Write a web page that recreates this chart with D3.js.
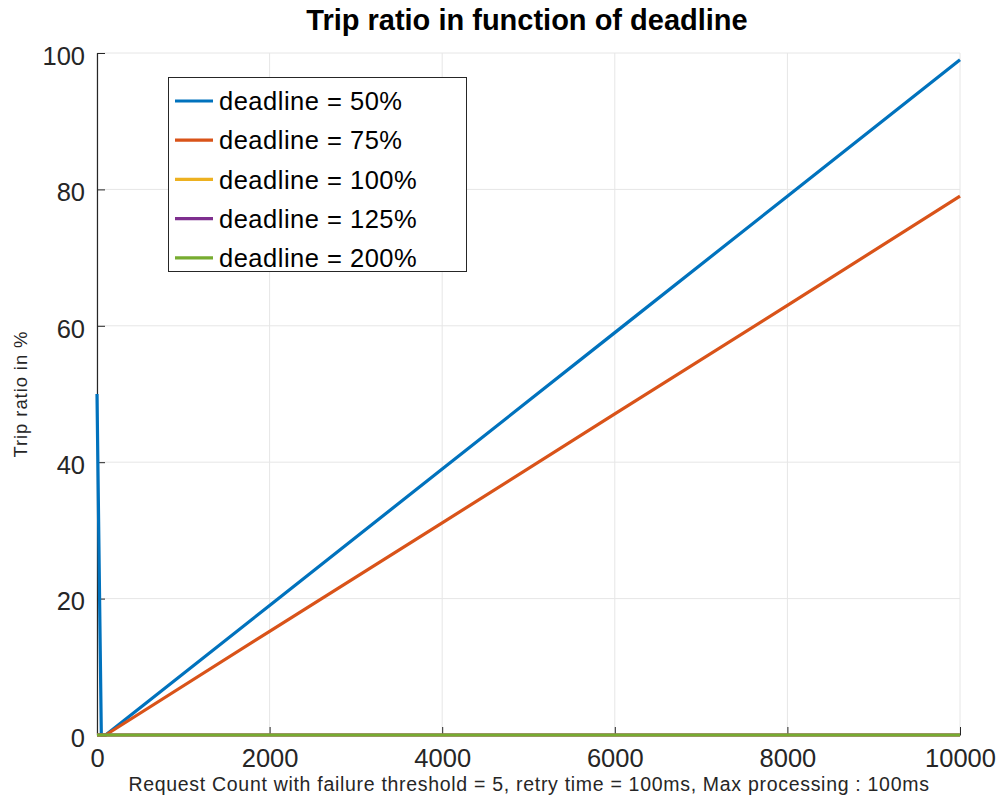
<!DOCTYPE html>
<html>
<head>
<meta charset="utf-8">
<script src="https://cdn.jsdelivr.net/npm/d3@7"></script>
<style>
  html, body { margin: 0; padding: 0; background: #fff; }
  svg { display: block; font-family: "Liberation Sans", Arial, Helvetica, sans-serif; }
</style>
</head>
<body>
<svg id="chart" width="1000" height="805"></svg>
<script>
// Request counts at which each series is sampled
const requestCounts = [0, 50, 100, 2000, 4000, 6000, 8000, 10000];

// Trip ratio (%) per deadline setting
const trip50  = [50, 0, 0, 19, 39, 59, 79, 99];
const trip75  = [0, 0, 0, 15.2, 31.1, 47.1, 63.0, 79];
const trip100 = [0, 0, 0, 0, 0, 0, 0, 0];
const trip125 = [0, 0, 0, 0, 0, 0, 0, 0];
const trip200 = [0, 0, 0, 0, 0, 0, 0, 0];

const seriesNames = ["deadline = 50%", "deadline = 75%", "deadline = 100%", "deadline = 125%", "deadline = 200%"];
const seriesValues = [trip50, trip75, trip100, trip125, trip200];
const seriesColors = ["#0072BD", "#D95319", "#EDB120", "#7E2F8E", "#77AC30"];

const xTicks = [0, 2000, 4000, 6000, 8000, 10000];
const yTicks = [0, 20, 40, 60, 80, 100];

const svg = d3.select("#chart");
const plot = { left: 97, right: 960, top: 53, bottom: 735 };

const x = d3.scaleLinear().domain([0, 10000]).range([plot.left, plot.right]);
const y = d3.scaleLinear().domain([0, 100]).range([plot.bottom, plot.top]);

// Grid lines
const grid = svg.append("g");
grid.selectAll("line.gx").data(xTicks).join("line")
  .attr("x1", d => x(d)).attr("x2", d => x(d))
  .attr("y1", plot.top).attr("y2", plot.bottom)
  .attr("stroke", "#e6e6e6").attr("stroke-width", 1);
grid.selectAll("line.gy").data(yTicks).join("line")
  .attr("x1", plot.left).attr("x2", plot.right)
  .attr("y1", d => y(d)).attr("y2", d => y(d))
  .attr("stroke", "#e6e6e6").attr("stroke-width", 1);

// Axes (inward ticks)
const xAxis = d3.axisBottom(x).tickValues(xTicks).tickSizeInner(-8).tickSizeOuter(0).tickPadding(14).tickFormat(d3.format("d"));
const yAxis = d3.axisLeft(y).tickValues(yTicks).tickSizeInner(-8).tickSizeOuter(0).tickPadding(12).tickFormat(d3.format("d"));

const gx = svg.append("g").attr("transform", `translate(0,${plot.bottom})`).call(xAxis);
const gy = svg.append("g").attr("transform", `translate(${plot.left},0)`).call(yAxis);
[gx, gy].forEach(g => {
  g.select(".domain").attr("stroke", "#262626").attr("stroke-width", 1.2);
  g.selectAll(".tick line").attr("stroke", "#262626");
  g.selectAll(".tick text").attr("fill", "#262626").style("font-size", "25.5px")
    .style("font-family", "'Liberation Sans', Arial, sans-serif");
});
gx.selectAll(".tick text").attr("dy", "0.71em");
gy.selectAll(".tick text").attr("dy", "0.44em");

// Lines
const line = d3.line().x((d, i) => x(requestCounts[i])).y(d => y(d));
const lines = svg.append("g");
seriesValues.forEach((vals, k) => {
  lines.append("path")
    .datum(vals)
    .attr("fill", "none")
    .attr("stroke", seriesColors[k])
    .attr("stroke-width", 3.2)
    .attr("stroke-linejoin", "round")
    .attr("d", line);
});

// Title
svg.append("text")
  .attr("x", 527).attr("y", 30)
  .attr("text-anchor", "middle")
  .style("font-size", "29px").style("font-weight", "bold")
  .attr("fill", "#000")
  .text("Trip ratio in function of deadline");

// Axis labels
svg.append("text")
  .attr("x", 529).attr("y", 791)
  .attr("text-anchor", "middle")
  .style("font-size", "19.5px").style("letter-spacing", "0.7px").attr("fill", "#262626")
  .text("Request Count with failure threshold = 5, retry time = 100ms, Max processing : 100ms");

svg.append("text")
  .attr("transform", `translate(27,${394}) rotate(-90)`)
  .attr("text-anchor", "middle")
  .style("font-size", "18.5px").style("letter-spacing", "0.9px").attr("fill", "#262626")
  .text("Trip ratio in %");

// Legend
const legend = svg.append("g");
legend.append("rect")
  .attr("x", 168.5).attr("y", 77.5).attr("width", 298).attr("height", 194)
  .attr("fill", "#fff").attr("stroke", "#262626").attr("stroke-width", 1);
seriesNames.forEach((name, k) => {
  const cy = 101 + k * 39.2;
  legend.append("line")
    .attr("x1", 175).attr("x2", 213).attr("y1", cy).attr("y2", cy)
    .attr("stroke", seriesColors[k]).attr("stroke-width", 3.2);
  legend.append("text")
    .attr("x", 219).attr("y", cy).attr("dy", "0.36em")
    .style("font-size", "25.5px").style("letter-spacing", "0.5px").attr("fill", "#000")
    .text(name);
});
</script>
</body>
</html>
